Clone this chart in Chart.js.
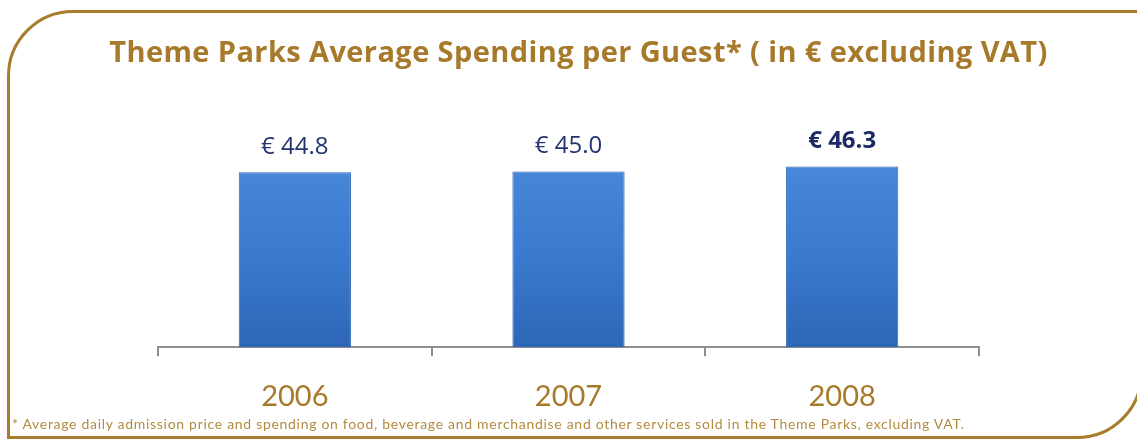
<!DOCTYPE html>
<html>
<head>
<meta charset="utf-8">
<script src="https://cdn.jsdelivr.net/npm/chart.js@4"></script>
<style>
    html, body { margin: 0; padding: 0; background: #ffffff; }
    #wrap { position: relative; width: 1137px; height: 441px; overflow: hidden; }
    #frame {
        position: absolute; left: 7px; top: 10px; width: 1136px; height: 429px;
        border: 3px solid #a87c2c; border-radius: 66px 0 66px 0; box-sizing: border-box;
    }
    #chart { position: absolute; left: 0; top: 0; }
    #title {
        position: absolute; left: 20px; width: 1117px; top: 31px; text-align: center;
        font-family: "Open Sans", sans-serif; font-weight: bold; font-size: 29px;
        letter-spacing: 0.4px; color: #a67a2a; white-space: nowrap;
    }
    #note {
        position: absolute; left: 12px; top: 415px; font-family: Lato, sans-serif;
        font-size: 14px; letter-spacing: 0.7px; color: #b38b40; white-space: nowrap;
    }
</style>
</head>
<body>
<div id="wrap">
    <div id="frame"></div>
    <canvas id="chart" width="1137" height="441"></canvas>
    <div id="title">Theme Parks Average Spending per Guest* ( in € excluding VAT)</div>
    <div id="note">* Average daily admission price and spending on food, beverage and merchandise and other services sold in the Theme Parks, excluding VAT.</div>
</div>
<script>
// chart data
const years = ['2006', '2007', '2008'];
const spending = [44.8, 45.0, 46.3];
const valueLabels = ['€ 44.8', '€ 45.0', '€ 46.3'];

const gold = '#a67a2a';

// draws the value text above each bar
const barValuePlugin = {
    id: 'barValues',
    afterDatasetsDraw(chart) {
        const ctx = chart.ctx;
        const meta = chart.getDatasetMeta(0);
        ctx.save();
        ctx.textAlign = 'center';
        ctx.textBaseline = 'middle';
        meta.data.forEach((bar, i) => {
            const isLast = i === meta.data.length - 1;
            ctx.font = (isLast ? 'bold ' : '') + '24px "Open Sans", sans-serif';
            ctx.fillStyle = isLast ? '#1c2a66' : '#23336e';
            ctx.fillText(valueLabels[i], bar.x, bar.y - 25);
        });
        ctx.restore();
    }
};

function barFill(context) {
    const chart = context.chart;
    const area = chart.chartArea;
    if (!area) return '#3a7bd0';
    const g = chart.ctx.createLinearGradient(0, area.top + 50, 0, area.bottom);
    g.addColorStop(0, '#4788da');
    g.addColorStop(0.5, '#3a7acf');
    g.addColorStop(1, '#2e66b6');
    return g;
}

new Chart(document.getElementById('chart'), {
    type: 'bar',
    data: {
        labels: years,
        datasets: [{
            data: spending,
            backgroundColor: barFill,
            borderColor: '#2c62b0',
            borderWidth: 1,
            barPercentage: 0.41,
            categoryPercentage: 1
        }]
    },
    options: {
        responsive: false,
        animation: false,
        layout: { padding: { left: 158, right: 158, top: 113, bottom: 4 } },
        plugins: {
            legend: { display: false },
            tooltip: { enabled: false },
            title: { display: false }
        },
        scales: {
            x: {
                border: { display: true, color: '#8f8f8f', width: 2 },
                grid: { display: true, drawOnChartArea: false, color: '#8f8f8f', lineWidth: 2, tickLength: 9, offset: true },
                ticks: { color: gold, padding: 23, font: { family: 'Lato, sans-serif', size: 29 } }
            },
            y: {
                display: false,
                min: 0,
                max: 60
            }
        }
    },
    plugins: [barValuePlugin]
});
</script>
</body>
</html>
